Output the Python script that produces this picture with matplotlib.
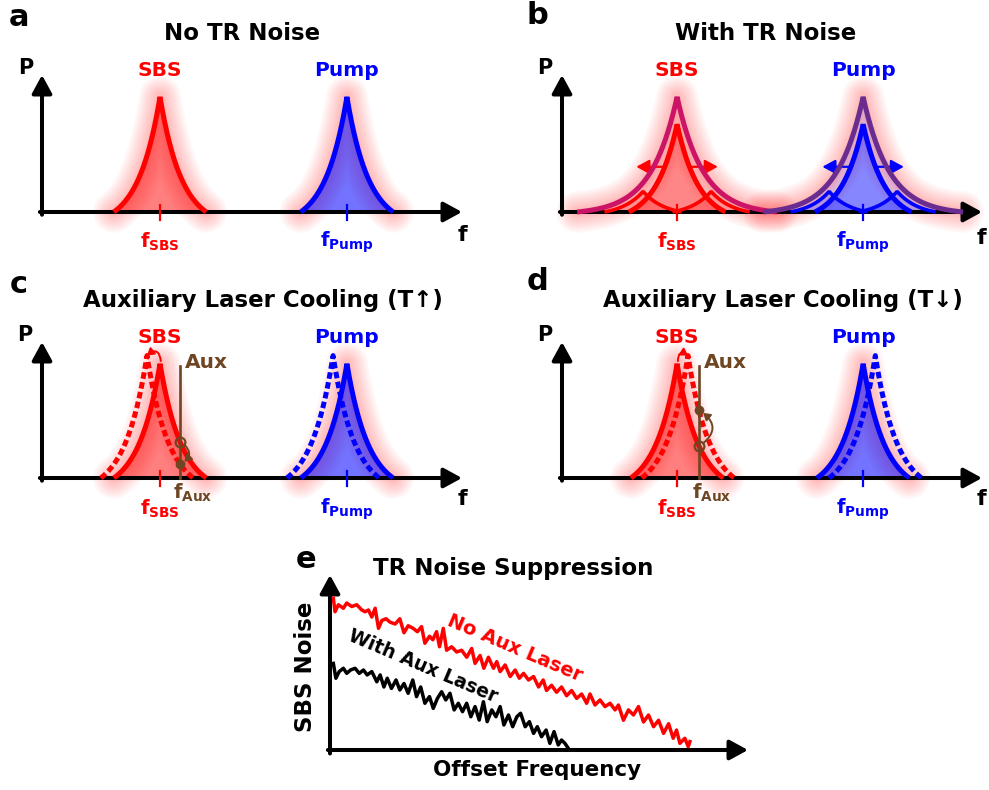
import numpy as np
import matplotlib.pyplot as plt

plt.rcParams['font.family'] = ['DejaVu Sans']
plt.rcParams['font.weight'] = 'bold'
plt.rcParams['mathtext.fontset'] = 'dejavusans'
plt.rcParams['mathtext.default'] = 'bf'

W, H = 989, 790
fig = plt.figure(figsize=(W / 100, H / 100), dpi=100)

RED = '#ff0000'
BLUE = '#0000ff'
BROWN = '#6e4623'

# ---- schematic data (f axis runs 0..10, P axis 0..1) ----
names = ['SBS', 'Pump']
colors = [RED, BLUE]
fill_alpha = [0.5, 0.55]
sub_labels = [r'$\mathbf{f_{SBS}}$', r'$\mathbf{f_{Pump}}$']
centers_ac = [2.81, 7.26]
centers_bd = [2.74, 7.17]
peak_h, peak_hw, peak_w = 0.84, 1.10, 0.52

# b: thermal (TR) broadening
env_colors = ['#cc1466', '#6a2d8f']
env_h, env_hw, env_w = 0.84, 2.38, 0.62
core_h, core_hw = 0.64, 1.15
side_shift = [-0.81, 0.81]
side_h, side_hw = 0.15, 0.92
jitter_in, jitter_out, jitter_level = 0.28, 0.97, 0.33

# c / d: shifted (dashed) resonances and auxiliary laser
shift_c = [-0.31, -0.33]
shift_d = [0.26, 0.29]
shifted_h = 0.90
aux_c, aux_d, aux_top = 3.29, 3.26, 0.82

# e: noise spectra (offset frequency 0..100, noise 0..100)
red_x = [0.8, 1.2, 2.0, 3.2, 4.0, 5.2, 6.4, 7.6, 8.4, 9.2, 10.0, 10.8, 11.6, 12.4,
         13.4, 14.4, 15.6, 16.7, 17.7, 18.7, 19.9, 20.9, 21.9, 22.7, 23.8, 24.6,
         25.5, 26.2, 27.1, 27.9, 29.1, 30.3, 31.5, 32.7, 33.9, 34.7, 35.9, 36.8,
         37.9, 39.1, 39.9, 40.7, 41.9, 43.1, 44.3, 45.3, 46.3, 47.5, 48.7, 49.9,
         51.0, 51.8, 53.0, 54.2, 55.4, 56.6, 57.8, 59.0, 60.2, 61.4, 62.2, 63.4,
         64.6, 65.8, 67.0, 68.2, 69.0, 70.2, 71.4, 72.6, 73.8, 75.0, 76.2, 77.4,
         78.6, 79.8, 81.0, 82.1, 82.9, 83.7, 84.9, 85.7, 86.1]
red_y = [86.7, 79, 83, 81, 84, 82, 83, 80, 79, 80, 76, 81, 69.5, 74,
         75, 73, 72, 75, 67, 71, 69.5, 67.6, 70.5, 61, 65, 63,
         67.6, 59, 69.5, 57, 59, 56, 57, 53, 58, 49.5, 54, 46.7,
         53, 46.7, 50.5, 44.8, 48.6, 42, 45.7, 41, 43.8, 40, 42, 36,
         40, 34, 37, 33, 36, 31, 34, 29.5, 32, 26.7, 32, 25.7,
         28.6, 24.8, 26.7, 22.9, 25.7, 17, 22.9, 20, 24.8, 16, 20, 13.3,
         17, 9.5, 15, 6.7, 11.4, 3.8, 6.7, 1.9, 4.8]
blk_x = [0.8, 1.4, 2.2, 3.2, 4.0, 4.9, 6.0, 7.0, 8.0, 8.9, 10.0, 11.2, 12.0, 12.9,
         13.7, 14.7, 15.8, 16.7, 17.7, 18.7, 19.8, 20.7, 21.7, 22.7, 23.8, 24.7,
         25.7, 26.7, 27.7, 28.7, 29.7, 30.7, 31.7, 32.7, 33.7, 34.7, 35.7, 36.7,
         37.6, 38.7, 39.7, 40.7, 41.6, 42.7, 43.7, 44.7, 45.6, 46.7, 47.7, 48.7,
         49.6, 50.6, 51.7, 52.6, 53.6, 54.6, 55.4, 56.2, 57.0]
blk_y = [49.5, 41, 44.8, 46.7, 43.8, 45.7, 46.7, 43.8, 45.7, 42.9, 44.8, 39, 42.9, 36,
         41, 35.2, 40, 34.3, 38, 32.4, 40, 30.5, 36, 26.7, 30.5, 23.8,
         29.5, 33.3, 28.6, 32.4, 22.9, 26.7, 21.9, 26.7, 19, 24.8, 17.1, 27.6,
         16.2, 22.9, 19, 24.8, 14.3, 20, 13.3, 19, 21, 13.3, 16.2, 9.5,
         13.3, 7.6, 11.4, 3.8, 10.5, 2.9, 5.7, 3.8, 1]


def peak(c, h, hw, w, n=401):
    x = np.linspace(c - hw, c + hw, n)
    e = np.exp(-hw / w)
    y = h * (np.exp(-np.abs(x - c) / w) - e) / (1 - e)
    return x, y


def ftext(x, y, s, size, **kw):
    kw.setdefault('ha', 'center')
    kw.setdefault('va', 'center')
    fig.text(x / W, 1 - y / H, s, fontsize=size, fontweight='bold', **kw)


def panel(l, r, t, b, xmax=10, ymax=1):
    ax = fig.add_axes([l / W, 1 - b / H, (r - l) / W, (b - t) / H])
    ax.set_xlim(0, xmax)
    ax.set_ylim(0, ymax)
    ax.axis('off')
    arrow = dict(arrowstyle='-|>,head_length=0.55,head_width=0.3', lw=2.9,
                 color='k', shrinkA=0, shrinkB=0, mutation_scale=20)
    ax.annotate('', xy=(1, 0), xytext=(-0.005, 0), xycoords='axes fraction',
                arrowprops=arrow, zorder=3, annotation_clip=False)
    ax.annotate('', xy=(0, 1), xytext=(0, -0.02), xycoords='axes fraction',
                arrowprops=arrow, zorder=3, annotation_clip=False)
    return ax


def glow(ax, x, y):
    # soft red halo around each resonance
    for lw in np.linspace(30, 6, 9):
        ax.plot(x, y, color=RED, lw=lw, alpha=0.03, solid_capstyle='round',
                solid_joinstyle='round', zorder=1, clip_on=False)


def line(ax, x, y, col, lw=3.6, z=4, **kw):
    ax.plot(x, y, color=col, lw=lw, zorder=z, clip_on=False,
            solid_joinstyle='bevel', solid_capstyle='butt', **kw)


def marks(ax, centers, fy=-0.22):
    for c, col, nm, sub in zip(centers, colors, names, sub_labels):
        ax.plot([c, c], [-0.06, 0.05], color=col, lw=1.6, zorder=5, clip_on=False)
        ax.text(c, 1.03, nm, color=col, fontsize=14.5, ha='center', va='center')
        ax.text(c, fy, sub, color=col, fontsize=14, ha='center', va='center')


# ---- a: no TR noise ----
ax = panel(42, 462, 75, 212)
for c, col, fa in zip(centers_ac, colors, fill_alpha):
    x, y = peak(c, peak_h, peak_hw, peak_w)
    glow(ax, x, y)
    ax.fill_between(x, 0, y, color=col, alpha=fa, lw=0, zorder=2)
    line(ax, x, y, col)
marks(ax, centers_ac)

# ---- b: with TR noise ----
ax = panel(562, 982, 75, 212)
for c, col, ecol in zip(centers_bd, colors, env_colors):
    xe, ye = peak(c, env_h, env_hw, env_w)
    glow(ax, xe, ye)
    ax.fill_between(xe, 0, ye, color=col, alpha=0.12, lw=0, zorder=2)
    xc, yc = peak(c, core_h, core_hw, peak_w)
    ax.fill_between(xc, 0, yc, color=col, alpha=0.4, lw=0, zorder=2)
    for s in side_shift:
        xs, ys = peak(c + s, side_h, side_hw, peak_w)
        ax.fill_between(xs, 0, ys, color=col, alpha=0.2, lw=0, zorder=2)
        line(ax, xs, ys, col, lw=2.6)
    line(ax, xc, yc, col)
    line(ax, xe, ye, ecol, z=5)
    for sgn in (-1, 1):
        ax.annotate('', xy=(c + sgn * jitter_out, jitter_level),
                    xytext=(c + sgn * jitter_in, jitter_level),
                    arrowprops=dict(arrowstyle='-|>,head_length=0.55,head_width=0.3',
                                    color=col, lw=1.6, shrinkA=0, shrinkB=0,
                                    mutation_scale=14), zorder=4)
marks(ax, centers_bd)


# ---- c / d: auxiliary laser cooling ----
def cooling(l, r, centers, shifts, aux):
    ax = panel(l, r, 342, 478)
    for i, (c, s, col, fa) in enumerate(zip(centers, shifts, colors, fill_alpha)):
        x, y = peak(c, peak_h, peak_hw, peak_w)
        glow(ax, x, y)
        ax.fill_between(x, 0, y, color=col, alpha=fa, lw=0, zorder=2)
        line(ax, x, y, col)
        xd, yd = peak(c + s, shifted_h, peak_hw, peak_w)
        ax.plot(xd, yd, color=col, lw=3.6, dashes=(1.3, 0.7), zorder=4,
                clip_on=False)
        if i == 0:
            rad = 0.9 if s < 0 else -0.9
            ax.annotate('', xy=(c + s, shifted_h), xytext=(c + 0.02, peak_h + 0.02),
                        arrowprops=dict(arrowstyle='-|>,head_length=0.4,head_width=0.25',
                                        color=col, lw=1.4, shrinkA=0, shrinkB=0,
                                        mutation_scale=10,
                                        connectionstyle=f'arc3,rad={rad}'),
                        zorder=6)
            # auxiliary laser line and the two intersection points
            e = np.exp(-peak_hw / peak_w)
            y_s = peak_h * (np.exp(-abs(aux - c) / peak_w) - e) / (1 - e)
            y_d = shifted_h * (np.exp(-abs(aux - c - s) / peak_w) - e) / (1 - e)
            ax.plot([aux, aux], [0, aux_top], color=BROWN, lw=1.9, zorder=6,
                    clip_on=False)
            ax.plot([aux], [y_s], 'o', mfc='none', mec=BROWN, mew=1.6, ms=7,
                    zorder=7, clip_on=False)
            ax.plot([aux], [y_d], 'o', color=BROWN, ms=6, zorder=7, clip_on=False)
            rad2 = -0.7 if y_d < y_s else 0.7
            ax.annotate('', xy=(aux + 0.02, y_d), xytext=(aux + 0.02, y_s),
                        arrowprops=dict(arrowstyle='-|>,head_length=0.4,head_width=0.25',
                                        color=BROWN, lw=1.4, shrinkA=3, shrinkB=3,
                                        mutation_scale=10,
                                        connectionstyle=f'arc3,rad={rad2}'),
                        zorder=7)
            ax.text(aux + 0.12, aux_top + 0.03, 'Aux', color=BROWN, fontsize=14.5,
                    ha='left', va='center')
            ax.text(aux + 0.3, -0.11, r'$\mathbf{f_{Aux}}$', color=BROWN,
                    fontsize=14, ha='center', va='center')
    marks(ax, centers, fy=-0.23)
    return ax


cooling(42, 462, centers_ac, shift_c, aux_c)
cooling(562, 982, centers_bd, shift_d, aux_d)

# ---- e: TR noise suppression ----
ax = panel(330, 748, 575, 750, xmax=100, ymax=100)
ax.plot(red_x, red_y, color=RED, lw=2.5, solid_joinstyle='round', zorder=4)
ax.plot(blk_x, blk_y, color='k', lw=2.5, solid_joinstyle='round', zorder=4)
ax.text(44.3, 58.3, 'No Aux Laser', color=RED, fontsize=14, rotation=-23,
        ha='center', va='center', rotation_mode='anchor')
ax.text(22.2, 48, 'With Aux Laser', color='k', fontsize=13.5, rotation=-23,
        ha='center', va='center', rotation_mode='anchor')

# ---- panel letters, titles, axis labels ----
for x, y, s in [(19, 18, 'a'), (537, 16, 'b'), (19, 285, 'c'), (538, 282, 'd'),
                (306, 559, 'e')]:
    ftext(x, y, s, 22)
for x, y, s in [(242, 33, 'No TR Noise'), (766, 33, 'With TR Noise'),
                (263, 300, 'Auxiliary Laser Cooling (T\u2191)'),
                (783, 300, 'Auxiliary Laser Cooling (T\u2193)'),
                (513, 569, 'TR Noise Suppression')]:
    ftext(x, y, s, 16.5)
for x, y in [(26, 68), (545, 68), (25, 335), (545, 335)]:
    ftext(x, y, 'P', 15)
for x, y in [(462, 235), (981, 238), (462, 499), (981, 499)]:
    ftext(x, y, 'f', 16)
ftext(305, 667, 'SBS Noise', 16.5, rotation=90)
ftext(537, 770, 'Offset Frequency', 15.5)

fig.savefig('out.png', dpi=100)
